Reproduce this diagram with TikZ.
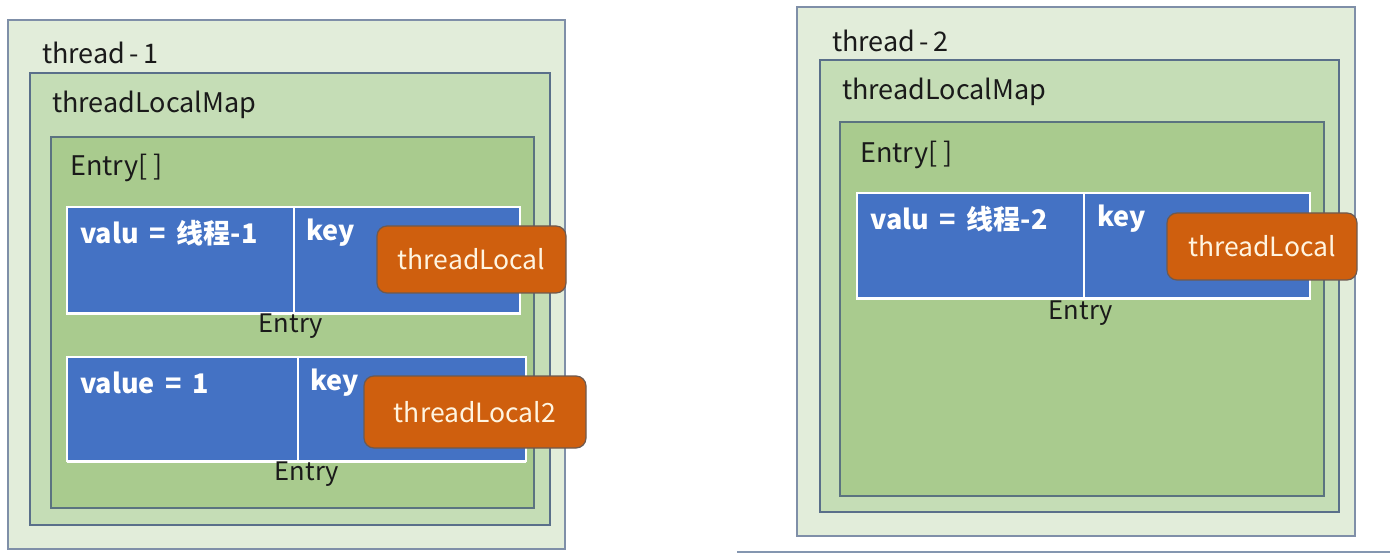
\documentclass[tikz,border=0pt]{standalone}
\usepackage{fontspec}
\setmainfont{Noto Sans CJK SC}
\begin{document}
\begin{tikzpicture}[x=1pt,y=-1pt,
  thread/.style={draw=outerline,fill=outerfill,line width=1.2pt,anchor=north west,inner sep=0pt,outer sep=0pt},
  mapbox/.style={draw=mapline,fill=mapfill,line width=1.2pt,anchor=north west,inner sep=0pt,outer sep=0pt},
  arrbox/.style={draw=arrline,fill=arrfill,line width=1.4pt,anchor=north west,inner sep=0pt,outer sep=0pt},
  entrybox/.style={draw=white,fill=entryblue,line width=1.5pt,anchor=north west,inner sep=0pt,outer sep=0pt},
  keybox/.style={draw=keyline,fill=keyfill,line width=1.2pt,rounded corners=10pt,inner sep=0pt,outer sep=0pt,text=keytext},
  lbl/.style={anchor=west,inner sep=0pt,font=\fontsize{27}{32}\selectfont,text=labeltext},
  captxt/.style={anchor=center,inner sep=0pt,font=\fontsize{25.5}{30}\selectfont,text=labeltext},
  wlbl/.style={anchor=west,inner sep=0pt,font=\fontsize{27}{32}\selectfont\bfseries,text=white},
  ktxt/.style={font=\fontsize{26.5}{31}\selectfont}
]
\definecolor{outerline}{HTML}{7F8FA8}
\definecolor{outerfill}{HTML}{E2EDDA}
\definecolor{mapline}{HTML}{5A6F8A}
\definecolor{mapfill}{HTML}{C5DDB6}
\definecolor{arrline}{HTML}{5B7380}
\definecolor{arrfill}{HTML}{A9CB8E}
\definecolor{entryblue}{HTML}{4472C4}
\definecolor{keyfill}{HTML}{CF5F0E}
\definecolor{keyline}{HTML}{6E5A50}
\definecolor{keytext}{HTML}{FFF4E0}
\definecolor{labeltext}{HTML}{1A1A1A}
\definecolor{rulecolor}{HTML}{8496B0}
\useasboundingbox (0,0) rectangle (1390,553);
\fill[white] (0,0) rectangle (1390,553);

% ---------- thread-1 ----------
\node[thread,minimum width=557pt,minimum height=529pt] (t1) at (8,20) {};
\node[mapbox,minimum width=520pt,minimum height=452pt] (m1) at (30,73) {};
\node[arrbox,minimum width=483pt,minimum height=371pt] (a1) at (51,137) {};
\node[lbl] (t1lbl) at (42,53) {thread\,-\,1};
\node[lbl] (m1lbl) at (52,105) {threadLocalMap};
\node[lbl] (a1lbl) at (70,168) {Entry[ ]};

\node[entrybox,minimum width=453pt,minimum height=107pt] (e1) at (67,207) {};
\draw[white,line width=3pt] (e1.south west) -- (e1.south east);
\coordinate (d1t) at (294,207);
\coordinate (d1b) at (294,314);
\draw[white,line width=1.5pt] (d1t) -- (d1b);
\node[wlbl] (v1) at (80,233) {valu \,=\, 线程-1};
\node[wlbl] (k1) at (306,233) {key};
\node[keybox,minimum width=189pt,minimum height=67pt] (tl1) at (471.5,259.5) {};
\node[ktxt,text=keytext] (tl1txt) at (tl1.center) {threadLocal};
\node[captxt] (e1lbl) at (291,326) {Entry};

\node[entrybox,minimum width=459pt,minimum height=104pt] (e2) at (67,357) {};
\draw[white,line width=3pt] (e2.south west) -- (e2.south east);
\coordinate (d2t) at (298,357);
\coordinate (d2b) at (298,461);
\draw[white,line width=1.5pt] (d2t) -- (d2b);
\node[wlbl] (v2) at (80,383) {value \,=\, 1};
\node[wlbl] (k2) at (310,383) {key};
\node[keybox,minimum width=222pt,minimum height=72pt] (tl2) at (475,412) {};
\node[ktxt,text=keytext] (tl2txt) at (tl2.center) {threadLocal2};
\node[captxt] (e2lbl) at (307,474) {Entry};

% ---------- thread-2 ----------
\node[thread,minimum width=558pt,minimum height=529pt] (t2) at (797,7) {};
\node[mapbox,minimum width=519pt,minimum height=452pt] (m2) at (820,60) {};
\node[arrbox,minimum width=484pt,minimum height=374pt] (a2) at (840,122) {};
\node[lbl] (t2lbl) at (832,41) {thread\,-\,2};
\node[lbl] (m2lbl) at (842,92) {threadLocalMap};
\node[lbl] (a2lbl) at (860,155) {Entry[ ]};

\node[entrybox,minimum width=453pt,minimum height=106pt] (e3) at (857,193) {};
\draw[white,line width=3pt] (e3.south west) -- (e3.south east);
\coordinate (d3t) at (1084,193);
\coordinate (d3b) at (1084,299);
\draw[white,line width=1.5pt] (d3t) -- (d3b);
\node[wlbl] (v3) at (870,219) {valu \,=\, 线程-2};
\node[wlbl] (k3) at (1097,219) {key};
\node[keybox,minimum width=190pt,minimum height=67pt] (tl3) at (1262,246.5) {};
\node[ktxt,text=keytext] (tl3txt) at (tl3.center) {threadLocal};
\node[captxt] (e3lbl) at (1081,313) {Entry};

% bottom rule
\coordinate (bl) at (737,552);
\coordinate (br) at (1390,552);
\draw[rulecolor,line width=3pt] (bl) -- (br);
\end{tikzpicture}
\end{document}
